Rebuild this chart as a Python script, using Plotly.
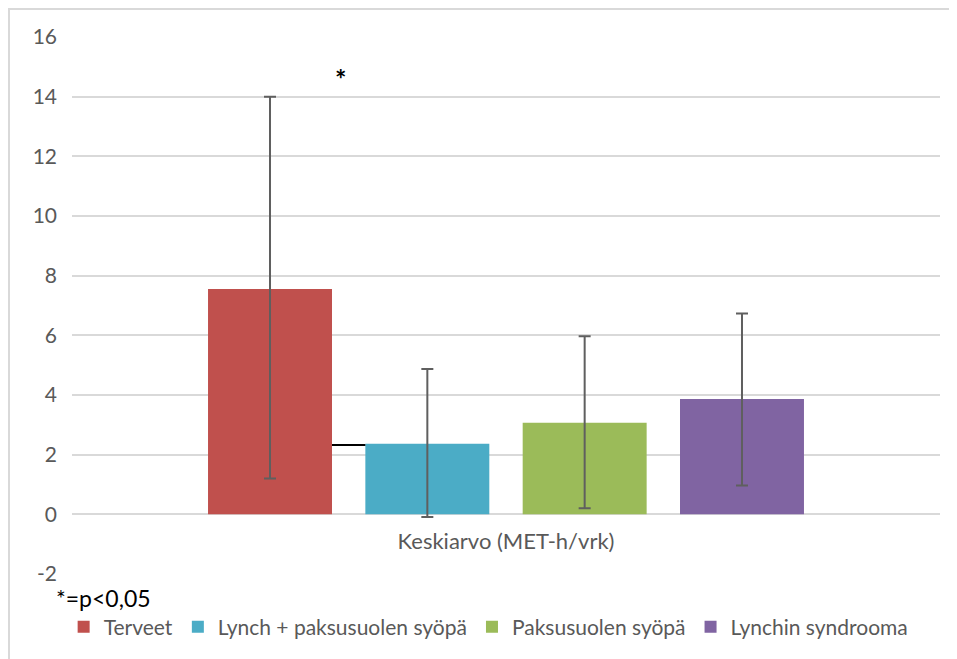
import plotly.graph_objects as go

category = ["Keskiarvo (MET-h/vrk)"]
series = ["Terveet", "Lynch + paksusuolen syöpä", "Paksusuolen syöpä", "Lynchin syndrooma"]
means = [7.55, 2.37, 3.07, 3.87]
err_upper = [6.45, 2.50, 2.90, 2.86]
err_lower = [6.35, 2.46, 2.87, 2.90]
colors = ["#C0504D", "#4BACC6", "#9BBB59", "#8064A2"]
y_ticks = [-2, 0, 2, 4, 6, 8, 10, 12, 14, 16]
y_tick_text = ["-2", "0", "2", "4", "6", "8", "10", "12", "14", "16"]
sig_y = 2.32
star_y = 14.6
note = "*=p<0,05"

FONT = "Lato"
GRAY = "#595959"

fig = go.Figure()
for name, m, eu, el, c in zip(series, means, err_upper, err_lower, colors):
    fig.add_trace(go.Bar(
        name=name, x=category, y=[m], marker=dict(color=c, line=dict(width=0)),
        error_y=dict(type="data", symmetric=False, array=[eu], arrayminus=[el],
                     color="#5f5f5f", thickness=2, width=6),
    ))

bargap = 0.275
groupgap = 0.212
n = len(series)
slot = (1 - bargap) / n
half_bar = slot * (1 - groupgap) / 2
centers = [-(1 - bargap) / 2 + slot * (i + 0.5) for i in range(n)]
x0 = centers[0] + half_bar
x1 = centers[1] - half_bar

fig.add_shape(type="line", xref="x", yref="y", x0=x0, x1=x1, y0=sig_y, y1=sig_y,
              line=dict(color="black", width=2))
fig.add_annotation(x=0.301, y=star_y, xref="paper", yref="y", text="<b>*</b>",
                   showarrow=False, font=dict(family=FONT, size=27, color="black"))
fig.add_annotation(x=-0.021, y=-0.045, xref="paper", yref="paper", text=note,
                   xanchor="left", yanchor="middle", showarrow=False,
                   font=dict(family=FONT, size=23, color="black"))

# outer chart border (left and top edges visible)
fig.add_shape(type="rect", xref="paper", yref="paper",
              x0=-0.0726, x1=1.1, y0=-0.3, y1=1.0521,
              line=dict(color="#d9d9d9", width=2), fillcolor="rgba(0,0,0,0)")

fig.update_layout(
    width=957, height=659,
    margin=dict(l=64, r=25, t=29, b=93),
    paper_bgcolor="white", plot_bgcolor="white",
    barmode="group", bargap=bargap, bargroupgap=groupgap,
    font=dict(family=FONT, size=21, color=GRAY),
    showlegend=True,
    legend=dict(orientation="h", x=0.48, xanchor="center", y=-0.0987, yanchor="middle",
                font=dict(family=FONT, size=21, color=GRAY),
                itemwidth=30, traceorder="normal", tracegroupgap=0,
                bgcolor="rgba(0,0,0,0)"),
    xaxis=dict(type="category", range=[-0.5, 0.5], showgrid=False, showline=False,
               ticks="", anchor="free", position=2 / 18, ticklabelstandoff=12,
               tickfont=dict(family=FONT, size=22, color=GRAY)),
    yaxis=dict(range=[-2, 16], tickvals=y_ticks, ticktext=y_tick_text,
               showgrid=True, gridcolor="#d9d9d9",
               gridwidth=2, zeroline=True, zerolinecolor="#d9d9d9", zerolinewidth=2,
               showline=False, ticks="", ticklabelstandoff=14,
               tickfont=dict(family=FONT, size=21, color=GRAY)),
)

fig.write_html("out.html")
